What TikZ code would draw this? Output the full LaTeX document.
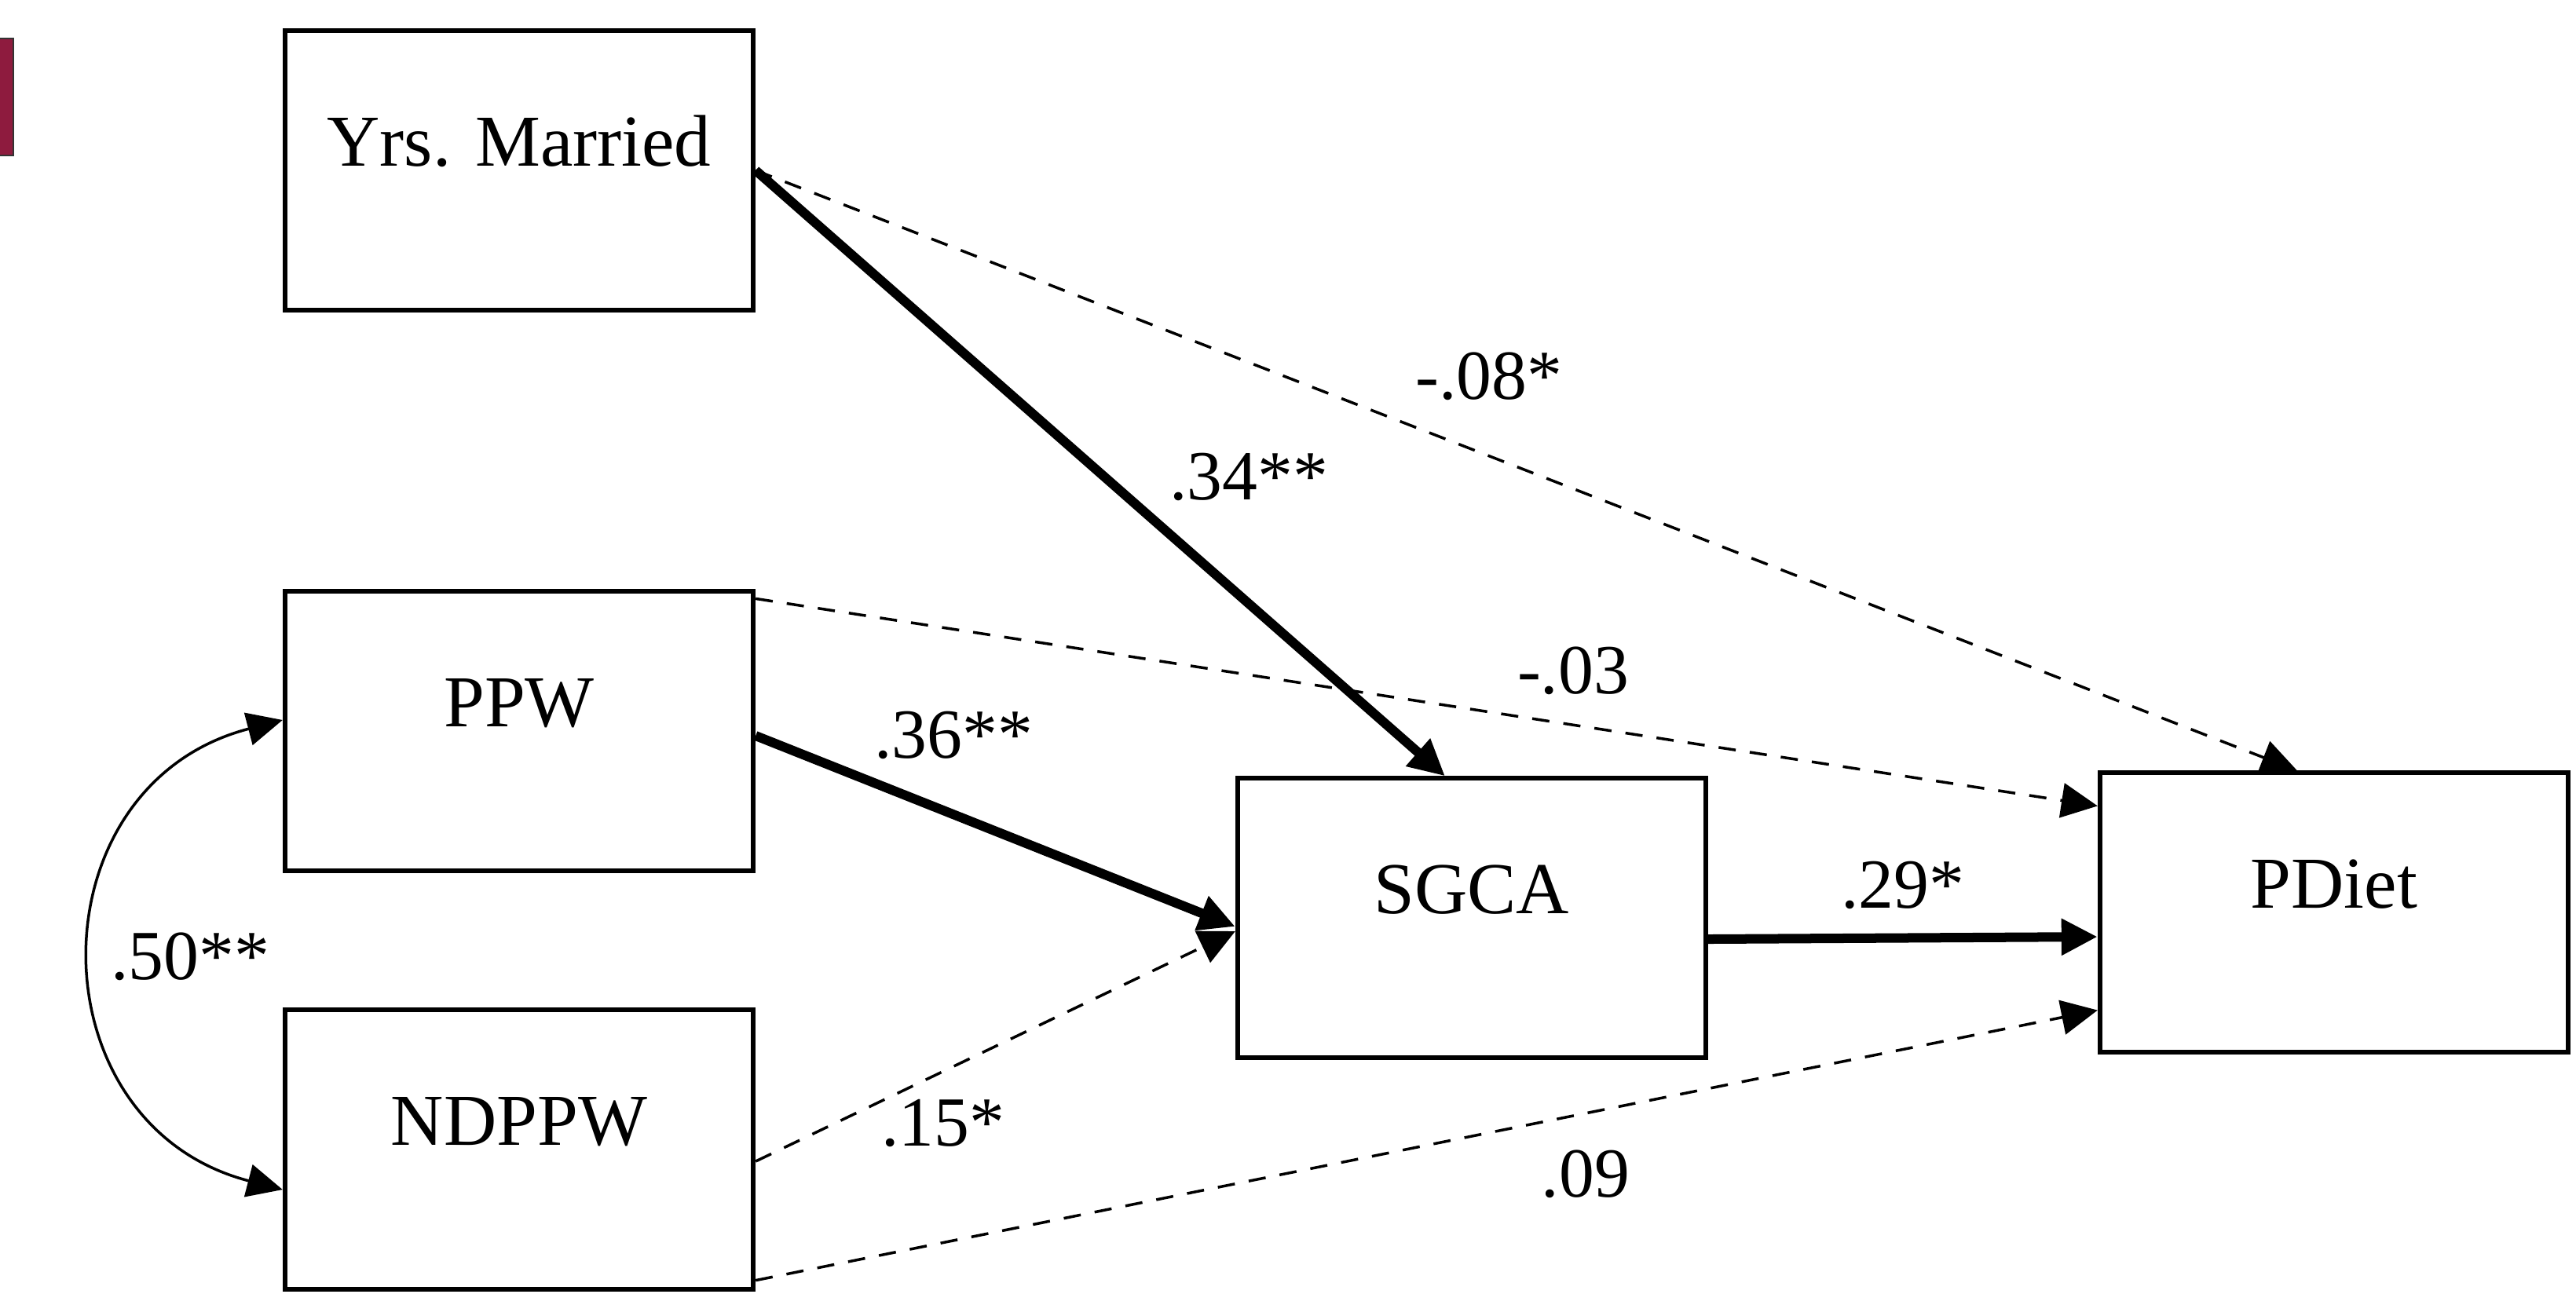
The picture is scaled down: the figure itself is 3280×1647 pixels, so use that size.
\documentclass[tikz,border=0pt]{standalone}
\usepackage{fontspec}
\setmainfont{Liberation Serif}
\usetikzlibrary{arrows.meta,calc}
\definecolor{barred}{RGB}{142,27,62}
\begin{document}
\begin{tikzpicture}[x=0.01cm,y=-0.01cm,
  box/.style={draw, line width=0.06cm, minimum width=5.96cm, minimum height=3.55cm, inner sep=0pt, text height=1.72cm, text depth=1.83cm, font=\fontsize{26.5pt}{30pt}\selectfont},
  lbl/.style={anchor=base, inner sep=0pt, font=\fontsize{25.5pt}{30pt}\selectfont},
  tip/.style={-{Triangle[length=0.46cm,width=0.44cm]}},
  solidpath/.style={tip, line width=0.12cm},
  dashpath/.style={tip, line width=0.035cm, dash pattern=on 0.22cm off 0.18cm},
  curvepath/.style={{Triangle[length=0.45cm,width=0.42cm]}-{Triangle[length=0.45cm,width=0.42cm]}, line width=0.035cm},
]
\useasboundingbox (0,0) rectangle (3280,1647);
\fill[white] (0,0) rectangle (3280,1647);
\draw[fill=barred, draw=black!80, line width=0.02cm] (-10,49) rectangle (17,198);

\node[box] (ym) at (661,217) {Yrs. Married};
\node[box] (ppw) at (661,931) {PPW};
\node[box] (nd) at (661,1464) {NDPPW};
\node[box] (sgca) at (1874,1169) {SGCA};
\node[box] (pd) at (2972,1162) {PDiet};

\draw[solidpath] (ym.east) -- ([xshift=-0.34cm]sgca.north);
\draw[dashpath] (ym.east) -- ([xshift=-0.47cm]pd.north);
\draw[dashpath] ([yshift=-0.12cm]ppw.north east) -- ([yshift=-0.45cm]pd.north west);
\draw[solidpath] ([yshift=-0.06cm]ppw.east) -- ([yshift=-0.11cm]sgca.west);
\draw[dashpath] ([yshift=-0.15cm]nd.east) -- ([yshift=-0.17cm]sgca.west);
\draw[solidpath] ([yshift=-0.27cm]sgca.east) -- ([yshift=-0.31cm]pd.west);
\draw[dashpath] ([yshift=0.14cm]nd.south east) -- ([yshift=0.56cm]pd.south west);
\draw[curvepath] ([yshift=0.14cm]ppw.west) .. controls (40,1000) and (40,1432) .. ([yshift=-0.51cm]nd.west);

\node[lbl] (l34) at (1590,636) {.34**};
\node[lbl] (l08) at (1896,508) {-.08*};
\node[lbl] (l03) at (2003,883) {-.03};
\node[lbl] (l36) at (1214,965) {.36**};
\node[lbl] (l29) at (2423,1156) {.29*};
\node[lbl] (l15) at (1201,1459) {.15*};
\node[lbl] (l09) at (2019,1524) {.09};
\node[lbl] (l50) at (242,1247) {.50**};
\end{tikzpicture}
\end{document}
